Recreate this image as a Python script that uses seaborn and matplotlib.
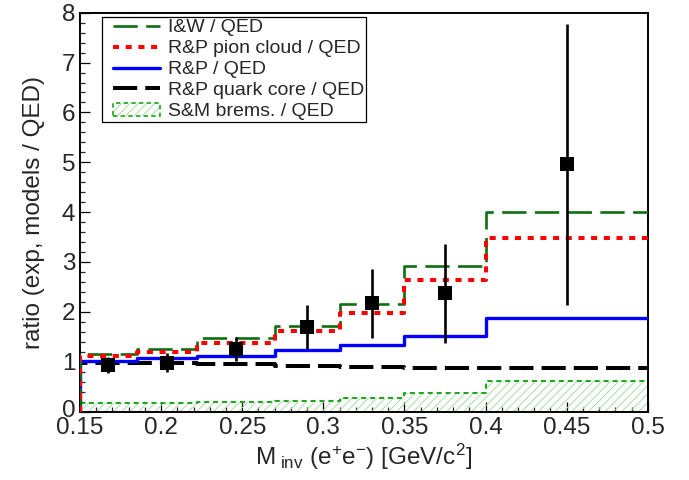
import matplotlib
matplotlib.use('Agg')
import matplotlib.pyplot as plt
import matplotlib.transforms as mtransforms
import seaborn as sns
import pandas as pd
from matplotlib.lines import Line2D
from matplotlib.patches import Patch
from matplotlib.ticker import MultipleLocator
from matplotlib.legend_handler import HandlerLine2D, HandlerPatch

# ---------------- data ----------------
bin_edges = [0.15, 0.185, 0.222, 0.27, 0.31, 0.35, 0.40, 0.50]
iw_qed = [1.16, 1.25, 1.48, 1.72, 2.16, 2.92, 4.00]
rp_pion_qed = [1.12, 1.20, 1.38, 1.62, 1.97, 2.63, 3.49]
rp_qed = [1.02, 1.07, 1.12, 1.24, 1.34, 1.52, 1.88]
rp_quark_qed = [0.965, 0.965, 0.95, 0.92, 0.90, 0.875, 0.865]
sm_brems_qed = [0.18, 0.18, 0.19, 0.21, 0.27, 0.375, 0.615]

data_x = [0.1675, 0.2035, 0.246, 0.29, 0.33, 0.375, 0.45]
data_y = [0.93, 0.98, 1.25, 1.69, 2.17, 2.37, 4.96]
data_err = [0.16, 0.185, 0.24, 0.445, 0.69, 0.99, 2.82]

series_labels = ["I&W / QED", "R&P pion cloud / QED", "R&P / QED",
                 "R&P quark core / QED", "S&M brems. / QED"]
x_tick_values = [0.15, 0.2, 0.25, 0.3, 0.35, 0.4, 0.45, 0.5]
x_tick_labels = ["0.15", "0.2", "0.25", "0.3", "0.35", "0.4", "0.45", "0.5"]
y_tick_values = [0, 1, 2, 3, 4, 5, 6, 7, 8]

# ---------------- style ----------------
sns.set_style("ticks")
plt.rcParams['font.family'] = ['Liberation Sans', 'DejaVu Sans']
plt.rcParams['mathtext.fontset'] = 'custom'
plt.rcParams['mathtext.rm'] = 'Liberation Sans'
plt.rcParams['mathtext.it'] = 'Liberation Sans:italic'
plt.rcParams['mathtext.bf'] = 'Liberation Sans:bold'
plt.rcParams['hatch.linewidth'] = 0.7

C_IW = '#0f6e0f'
C_PION = '#ff0000'
C_RP = '#0000ff'
C_QUARK = '#000000'
C_BREMS = '#13a813'
C_HATCH = '#a9dba9'

fig = plt.figure(figsize=(6.89, 4.80), dpi=100)
ax = fig.add_axes([0.1161, 0.1427, 0.8240, 0.8308])


def step_df(vals):
    xs = [bin_edges[0]] + list(bin_edges)
    ys = [0.0] + list(vals) + [vals[-1]]
    return pd.DataFrame({'x': xs, 'y': ys})


# brems hatched band
ax.fill_between(bin_edges, list(sm_brems_qed) + [sm_brems_qed[-1]], step='post',
                facecolor='none', edgecolor=C_HATCH, hatch='////', linewidth=0, zorder=1)

ls_iw = (0, (9.2, 3.2))
ls_pion = (0, (1.5, 1.65))
ls_quark = (0, (6.0, 2.0))
ls_brems = (0, (2.6, 2.0))

sns.lineplot(data=step_df(sm_brems_qed), x='x', y='y', drawstyle='steps-post',
             estimator=None, sort=False, color=C_BREMS, linewidth=1.4,
             linestyle=ls_brems, ax=ax, zorder=2)
sns.lineplot(data=step_df(rp_quark_qed), x='x', y='y', drawstyle='steps-post',
             estimator=None, sort=False, color=C_QUARK, linewidth=2.9,
             linestyle=ls_quark, ax=ax, zorder=3)
sns.lineplot(data=step_df(rp_qed), x='x', y='y', drawstyle='steps-post',
             estimator=None, sort=False, color=C_RP, linewidth=2.4,
             linestyle='-', ax=ax, zorder=3)
sns.lineplot(data=step_df(iw_qed), x='x', y='y', drawstyle='steps-post',
             estimator=None, sort=False, color=C_IW, linewidth=1.9,
             linestyle=ls_iw, ax=ax, zorder=3)
sns.lineplot(data=step_df(rp_pion_qed), x='x', y='y', drawstyle='steps-post',
             estimator=None, sort=False, color=C_PION, linewidth=2.9,
             linestyle=ls_pion, ax=ax, zorder=3)

# data points
ax.errorbar(data_x, data_y, yerr=data_err, fmt='none', ecolor='black',
            elinewidth=1.9, capsize=0, zorder=5)
sns.scatterplot(x=data_x, y=data_y, marker='s', s=112, color='black',
                edgecolor='black', linewidth=0, ax=ax, zorder=6)

# axes
ax.set_xlim(0.15, 0.5)
ax.set_ylim(0, 8)
ax.set_xticks(x_tick_values)
ax.set_xticklabels(x_tick_labels)
ax.set_yticks(y_tick_values)
ax.xaxis.set_minor_locator(MultipleLocator(0.01))
ax.yaxis.set_minor_locator(MultipleLocator(0.2))
ax.tick_params(axis='both', which='major', direction='in', length=7.2, width=0.9,
               labelsize=17.5, color='black', top=False, right=False)
ax.tick_params(axis='both', which='minor', direction='in', length=3.6, width=0.9,
               top=False, right=False)
ax.tick_params(axis='x', which='major', pad=4)
ax.tick_params(axis='y', which='major', pad=3.5)
for sp in ax.spines.values():
    sp.set_linewidth(1.4)
    sp.set_color('black')

# lift the "0" y tick label slightly (as in the reference)
zero_lbl = ax.get_yticklabels()[0]
zero_lbl.set_transform(zero_lbl.get_transform() +
                       mtransforms.ScaledTranslation(0, 3 / 100, fig.dpi_scale_trans))

ax.set_xlabel(r'M$_{\mathregular{\ inv}}$ (e$^{+}$e$^{-}$) [GeV/c$^{2}$]', fontsize=17.5, labelpad=2)
ax.set_ylabel('ratio (exp, models / QED)', fontsize=17.5, labelpad=12)

# legend with left padding inside handle area
LEG_FS = 14.0
PAD_EM = 0.51


class PadLine(HandlerLine2D):
    def create_artists(self, legend, orig_handle, xdescent, ydescent, width, height,
                       fontsize, trans):
        p = PAD_EM * fontsize
        return super().create_artists(legend, orig_handle, xdescent - p, ydescent,
                                      width - p, height, fontsize, trans)


class PadPatch(HandlerPatch):
    def create_artists(self, legend, orig_handle, xdescent, ydescent, width, height,
                       fontsize, trans):
        p = PAD_EM * fontsize
        return super().create_artists(legend, orig_handle, xdescent - p, ydescent,
                                      width - p, height, fontsize, trans)


handles = [
    Line2D([], [], color=C_IW, linewidth=1.9, linestyle=ls_iw),
    Line2D([], [], color=C_PION, linewidth=2.9, linestyle=ls_pion),
    Line2D([], [], color=C_RP, linewidth=2.4, linestyle='-'),
    Line2D([], [], color=C_QUARK, linewidth=2.9, linestyle=ls_quark),
    (Patch(facecolor='none', edgecolor=C_HATCH, hatch='////', linewidth=0),
     Patch(facecolor='none', edgecolor=C_BREMS, linestyle=(0, (2.6, 2.0)), linewidth=1.2)),
]
leg = ax.legend(handles, series_labels, loc='upper left',
                bbox_to_anchor=(0.038, 0.9885), borderaxespad=0,
                fontsize=LEG_FS, frameon=True, fancybox=False, shadow=False,
                framealpha=1, edgecolor='black', borderpad=0.08,
                labelspacing=0.17, handlelength=2.9, handletextpad=0.46,
                handler_map={Line2D: PadLine(), Patch: PadPatch()})
leg.get_frame().set_linewidth(0.9)
leg.set_zorder(10)

fig.savefig('out.png', dpi=100)
